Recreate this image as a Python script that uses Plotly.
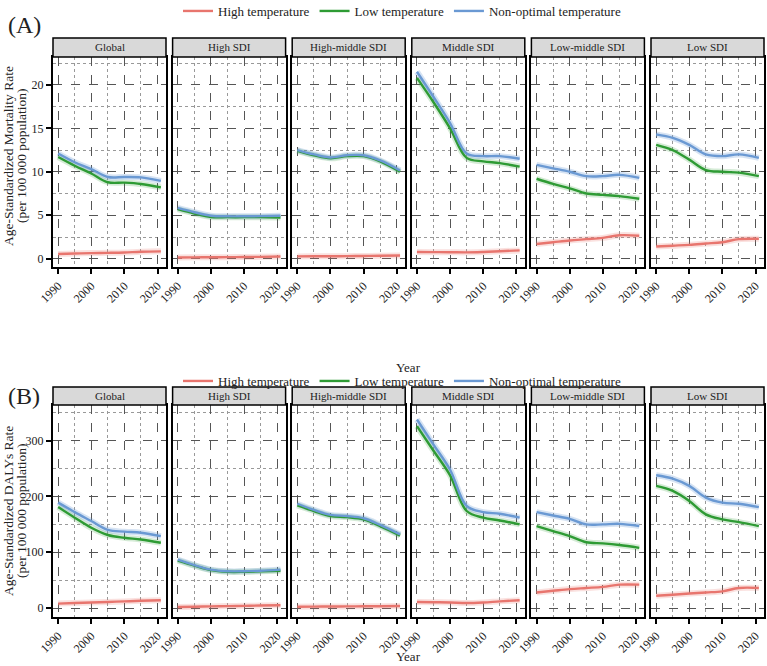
import plotly.graph_objects as go
from plotly.subplots import make_subplots

years = [1990, 1995, 2000, 2005, 2010, 2015, 2021]
regions = ["Global", "High SDI", "High-middle SDI", "Middle SDI", "Low-middle SDI", "Low SDI"]
causes = ["High temperature", "Low temperature", "Non-optimal temperature"]

# (A) age-standardized mortality rate per 100 000
mort_high = [
    [0.55, 0.6, 0.65, 0.68, 0.72, 0.8, 0.85],
    [0.15, 0.16, 0.17, 0.18, 0.2, 0.22, 0.25],
    [0.27, 0.28, 0.29, 0.3, 0.32, 0.35, 0.38],
    [0.77, 0.76, 0.75, 0.73, 0.78, 0.86, 0.96],
    [1.7, 1.9, 2.1, 2.25, 2.4, 2.7, 2.65],
    [1.4, 1.5, 1.6, 1.75, 1.9, 2.25, 2.3],
]
mort_low = [
    [11.7, 10.7, 9.8, 8.8, 8.75, 8.6, 8.2],
    [5.7, 5.2, 4.8, 4.78, 4.78, 4.78, 4.75],
    [12.4, 11.9, 11.55, 11.8, 11.8, 11.2, 10.0],
    [20.8, 18.0, 15.0, 11.6, 11.2, 11.0, 10.6],
    [9.2, 8.6, 8.1, 7.5, 7.35, 7.2, 6.9],
    [13.1, 12.5, 11.4, 10.2, 10.0, 9.9, 9.5],
]
mort_nonopt = [
    [12.1, 11.1, 10.3, 9.4, 9.4, 9.35, 8.95],
    [5.85, 5.35, 4.95, 4.88, 4.88, 4.9, 4.95],
    [12.5, 12.0, 11.65, 11.9, 11.9, 11.3, 10.15],
    [21.5, 18.6, 15.6, 12.1, 11.8, 11.8, 11.5],
    [10.8, 10.4, 10.0, 9.5, 9.5, 9.65, 9.3],
    [14.3, 13.9, 13.1, 12.0, 11.8, 12.0, 11.6],
]

# (B) age-standardized DALYs rate per 100 000
daly_high = [
    [8, 9, 10, 11, 12, 13, 14],
    [2, 2.5, 3, 3.5, 4, 4.5, 5],
    [2.4, 2.6, 2.8, 3, 3.2, 3.4, 3.6],
    [11, 10.5, 10, 9, 10, 12, 14],
    [28, 31, 34, 36, 38, 42, 42],
    [22, 24, 26, 28, 30, 36, 36],
]
daly_low = [
    [181, 162, 144, 131, 126, 123, 117],
    [85, 76, 68, 65, 65, 66, 67],
    [184, 174, 165, 163, 159, 147, 130],
    [326, 282, 238, 174, 162, 157, 150],
    [147, 138, 129, 118, 116, 113, 108],
    [219, 210, 192, 168, 159, 154, 147],
]
daly_nonopt = [
    [189, 172, 156, 140, 137, 135, 129],
    [87, 77, 69, 66, 66, 67, 69],
    [187, 176, 167, 165, 161, 149, 132],
    [338, 293, 248, 183, 172, 169, 162],
    [172, 166, 160, 150, 150, 151, 147],
    [238, 232, 219, 198, 189, 187, 181],
]

colors = ["#E8756E", "#2E9B34", "#6A99D3"]
band_colors = ["rgba(232,117,110,0.22)", "rgba(46,155,52,0.2)", "rgba(106,153,211,0.28)"]

W, H = 767, 666
FONT = "Liberation Serif"


def px(x):
    return x / W


def py(y):
    return 1 - y / H


fig = make_subplots(rows=2, cols=6)

panels = [
    (1, [mort_high, mort_low, mort_nonopt], "legend"),
    (2, [daly_high, daly_low, daly_nonopt], "legend2"),
]
for row, series, leg in panels:
    for c in range(6):
        for k in range(3):
            vals = series[k][c]
            fig.add_trace(go.Scatter(
                x=years, y=vals, mode="lines",
                line=dict(color=band_colors[k], width=6, shape="spline", smoothing=1.0),
                hoverinfo="skip", showlegend=False), row=row, col=c + 1)
        for k in range(3):
            vals = series[k][c]
            fig.add_trace(go.Scatter(
                x=years, y=vals, mode="lines", name=causes[k],
                line=dict(color=colors[k], width=2.4, shape="spline", smoothing=1.0),
                legend=leg, showlegend=(c == 0)), row=row, col=c + 1)

# facet geometry (pixels)
left0, fw, gap = 53, 113, 6.6
rows_px = {1: (57, 267, 38), 2: (405, 617, 387)}
yranges = {1: [-0.95, 23.2], 2: [-16, 364]}
ydticks = {1: 5, 2: 100}

shapes = []
annotations = []


def note(text, x, y, size, **kw):
    d = dict(text=text, x=px(x), y=py(y), xref="paper", yref="paper",
             xanchor="center", yanchor="middle", showarrow=False,
             font=dict(family=FONT, size=size, color="#222222"))
    d.update(kw)
    annotations.append(d)


for row in (1, 2):
    top, bot, strip_top = rows_px[row]
    for c in range(6):
        x0 = left0 + c * (fw + gap)
        x1 = x0 + fw
        fig.update_xaxes(
            domain=[px(x0), px(x1)], range=[1988.45, 2022.55],
            tick0=1990, dtick=10, tickangle=-45,
            ticks="outside", ticklen=5, tickwidth=2, tickcolor="black",
            showline=True, mirror=True, linewidth=2, linecolor="black",
            showgrid=True, gridcolor="#555555", griddash="dash", gridwidth=1,
            minor=dict(dtick=5, showgrid=True, gridcolor="#999999", griddash="dot", gridwidth=1),
            zeroline=False,
            tickfont=dict(family=FONT, size=12, color="#222222"),
            row=row, col=c + 1)
        fig.update_yaxes(
            domain=[py(bot), py(top)], range=yranges[row],
            tick0=0, dtick=ydticks[row],
            ticks="outside" if c == 0 else "", ticklen=5, tickwidth=2, tickcolor="black",
            showticklabels=(c == 0),
            showline=True, mirror=True, linewidth=2, linecolor="black",
            showgrid=True, gridcolor="#555555", griddash="dash", gridwidth=1,
            minor=dict(dtick=ydticks[row] / 2, showgrid=True, gridcolor="#999999",
                       griddash="dot", gridwidth=1),
            zeroline=False,
            tickfont=dict(family=FONT, size=12, color="#222222"),
            row=row, col=c + 1)
        shapes.append(dict(type="rect", xref="paper", yref="paper",
                           x0=px(x0), x1=px(x1), y0=py(top), y1=py(strip_top),
                           fillcolor="#D9D9D9", line=dict(color="black", width=1.5)))
        note(regions[c], (x0 + x1) / 2, (top + strip_top) / 2, 11)

note("(A)", 24, 25, 24)
note("(B)", 24, 396, 24)
note("Age-Standardized Mortality Rate", 8, 156, 13.5, textangle=-90)
note("(per 100 000 population)", 21, 156, 13.5, textangle=-90)
note("Age-Standardized DALYs Rate", 8, 511, 13.5, textangle=-90)
note("(per 100 000 population)", 21, 511, 13.5, textangle=-90)
note("Year", 408, 367, 13)
note("Year", 408, 656, 13)

legend_style = dict(orientation="h", xanchor="center", yanchor="middle",
                    font=dict(family=FONT, size=13, color="#222222"),
                    bgcolor="rgba(0,0,0,0)", itemwidth=30)

fig.update_layout(
    width=W, height=H,
    margin=dict(l=0, r=0, t=0, b=0, autoexpand=False),
    paper_bgcolor="white", plot_bgcolor="white",
    shapes=shapes, annotations=annotations,
    legend=dict(x=px(402), y=py(11), **legend_style),
    legend2=dict(x=px(402), y=py(381), **legend_style),
)

fig.write_html(
    "out.html",
    config={"displayModeBar": False},
    post_script="document.body.style.margin='0px';document.body.style.overflow='hidden';"
                "document.documentElement.style.overflow='hidden';",
)
